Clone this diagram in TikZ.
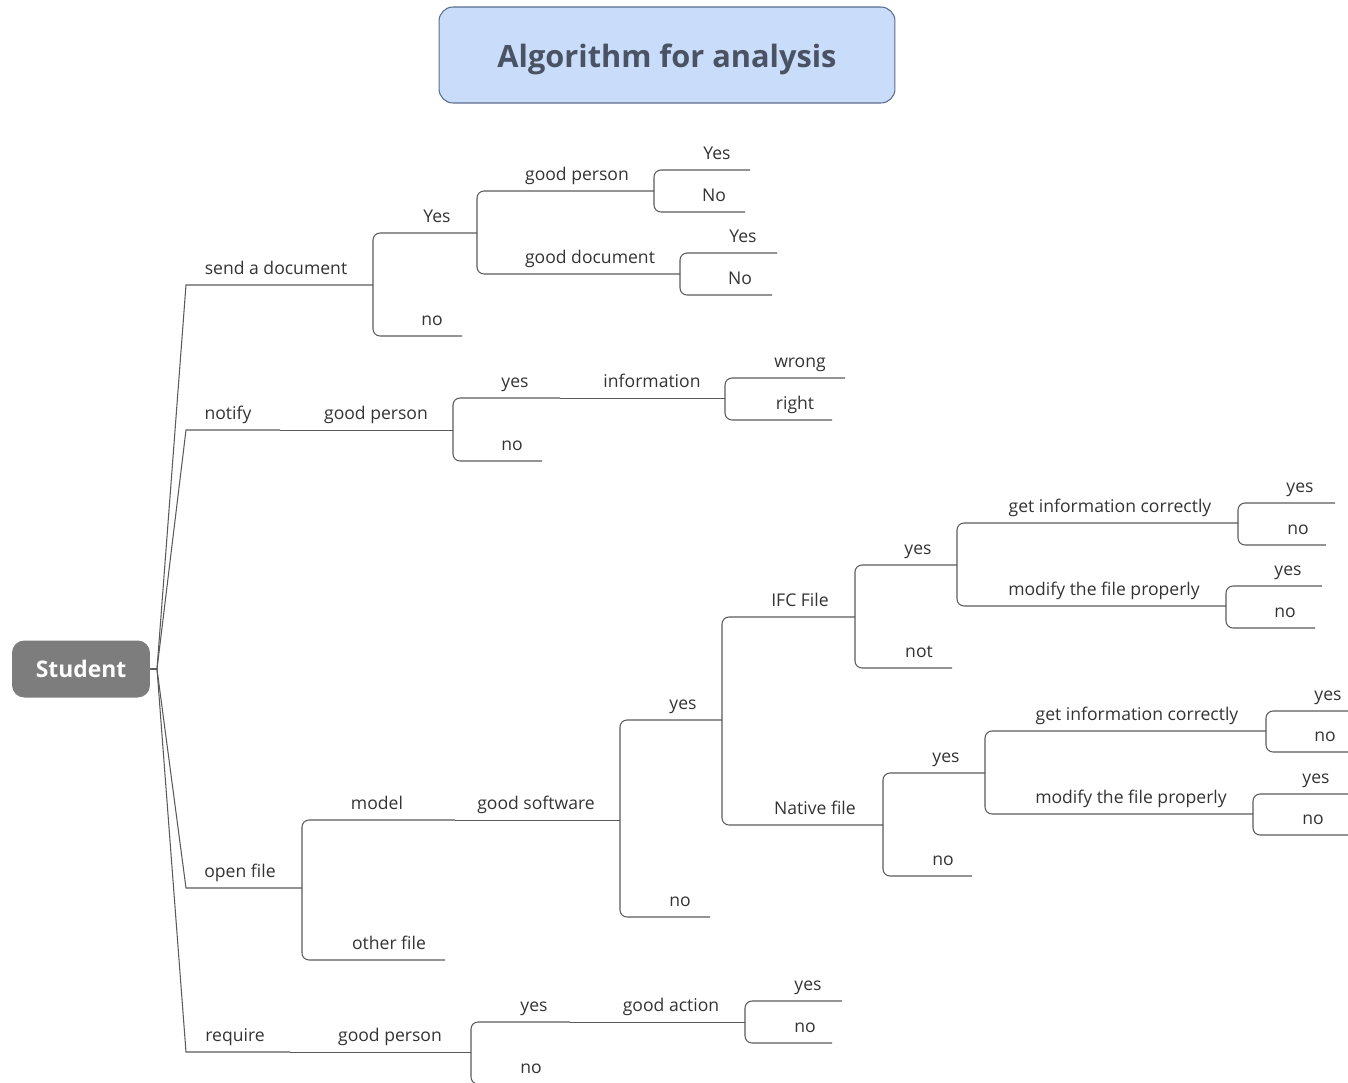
\documentclass[tikz,border=0pt]{standalone}
\usepackage{fontspec}
\setmainfont{Open Sans}
\usetikzlibrary{positioning}

\definecolor{titlefill}{HTML}{C9DCFA}
\definecolor{titledraw}{HTML}{5B6C8F}
\definecolor{titletext}{HTML}{4A5363}
\definecolor{rootfill}{HTML}{7D7D7D}
\definecolor{linecol}{HTML}{5A5A5A}
\definecolor{textcol}{HTML}{333333}

\begin{document}
\begin{tikzpicture}
    [x=0.02cm, y=-0.02cm,
     lbl/.style={anchor=base, inner sep=0pt, text=textcol, font=\fontsize{10}{12}\selectfont},
     branch/.style={draw=linecol, line width=0.6pt, rounded corners=4pt},
     stem/.style={draw=linecol, line width=0.6pt},
     chain/.style={draw=linecol, line width=0.45pt}]
  \clip (0,0) rectangle (1348,1082);

  \node[fill=titlefill, draw=titledraw, line width=0.6pt, rounded corners=8pt, minimum width=9.12cm, minimum height=1.92cm, text height=15.8pt, text depth=2pt, text=titletext, font=\bfseries\fontsize{17.5}{20}\selectfont] (title) at (667,55) {Algorithm for analysis};
  \node[fill=rootfill, rounded corners=7pt, minimum width=2.76cm, minimum height=1.14cm, text=white, font=\bfseries\fontsize{13}{15}\selectfont] (student) at (81,669) {Student};
  \coordinate (hub) at (157,669);

  % topics: name / line start / line end / line y / text x / text
  \foreach \n/\xa/\xb/\y/\tx/\txt in {
      send/186/373/285/276/send a document, notify/186/280/430/228/notify,
      open/186/302/888/240/open file, req/186/290/1052/235/require,
      sdy/373/477/233/437/Yes, sdn/373/462/336/432/no,
      gp1/477/654/191/577/good person, gd/477/680/274/590/good document,
      gp1y/654/750/170/717/Yes, gp1n/654/745/212/714/No,
      gdy/680/777/253/743/Yes, gdn/680/772/295/740/No,
      ngp/280/453/430/376/good person, ny/453/560/398/515/yes,
      info/560/725/398/652/information, nn/453/542/461/512/no,
      iw/725/845/378/800/wrong, ir/725/832/420/795/right,
      model/302/455/820/377/model, gsw/455/620/820/536/good software,
      other/302/445/960/389/other file,
      sy/620/722/720/683/yes, sn/620/710/917/680/no,
      ifc/722/855/617/800/IFC File, nat/722/883/825/815/Native file,
      iy/855/957/565/918/yes, inot/855/952/668/919/not,
      ig/957/1238/523/1110/get information correctly, im/957/1226/606/1104/modify the file properly,
      igy/1238/1335/503/1300/yes, ign/1238/1326/545/1298/no,
      imy/1226/1322/586/1288/yes, imn/1226/1315/628/1285/no,
      nay/883/985/773/946/yes, nan/883/972/876/943/no,
      nag/985/1266/731/1137/get information correctly, nam/985/1253/814/1131/modify the file properly,
      nagy/1266/1360/711/1328/yes, nagn/1266/1360/752/1325/no,
      namy/1253/1360/794/1316/yes, namn/1253/1360/835/1313/no,
      rgp/290/471/1052/390/good person, ry/471/570/1022/534/yes,
      ract/570/745/1022/671/good action, rn/471/560/1084/531/no,
      ray/745/842/1001/808/yes, ran/745/832/1043/805/no}
  {
    \coordinate (\n-a) at (\xa,\y);
    \coordinate (\n-b) at (\xb,\y);
    \node[lbl] (\n) at (\tx,\y-11) {\txt};
  }

  \foreach \c in {send,notify,open,req}
    \draw[stem] (student.east) -- (hub) -- (\c-a) -- (\c-b);

  \foreach \c in {ngp,info,gsw,rgp,ract}
    \draw[chain] (\c-a) -- (\c-b);

  \foreach \p/\c in {send/sdy, send/sdn, sdy/gp1, sdy/gd, gp1/gp1y, gp1/gp1n, gd/gdy, gd/gdn,
      ngp/ny, ngp/nn, info/iw, info/ir,
      open/model, open/other, gsw/sy, gsw/sn, sy/ifc, sy/nat, ifc/iy, ifc/inot,
      iy/ig, iy/im, ig/igy, ig/ign, im/imy, im/imn,
      nat/nay, nat/nan, nay/nag, nay/nam, nag/nagy, nag/nagn, nam/namy, nam/namn,
      rgp/ry, rgp/rn, ract/ray, ract/ran}
    \draw[branch] (\p-b) |- (\c-b);
\end{tikzpicture}
\end{document}
